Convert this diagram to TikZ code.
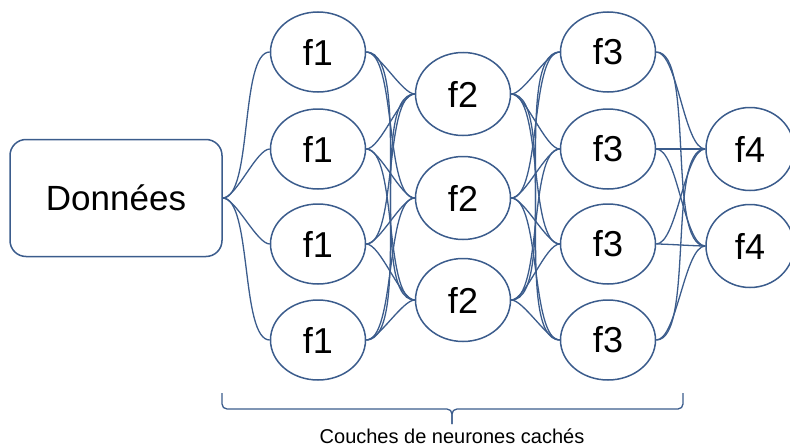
\documentclass[tikz,border=0pt]{standalone}
\usepackage{fontspec}
\setmainfont{Liberation Sans}
\usetikzlibrary{shapes.geometric}
\definecolor{netblue}{HTML}{3B5C8C}
\begin{document}
\begin{tikzpicture}[x=1pt,y=-1pt,
    neuron/.style={draw=netblue,line width=1.5pt,ellipse,minimum width=95pt,minimum height=80pt,inner sep=0pt,font=\fontsize{36}{36}\selectfont},
    link/.style={netblue,line width=1.3pt,out=0,in=180,looseness=0.5}]
    \useasboundingbox (0,0) rectangle (790,447);
    \node[draw=netblue,line width=1.5pt,rounded corners=16pt,minimum width=212pt,minimum height=117pt,font=\fontsize{35}{35}\selectfont] (don) at (116,198) {Données};
    \foreach \i/\y in {1/52,2/149,3/244,4/340} {
        \node[neuron] (a\i) at (318,\y) {f1};
        \node[neuron] (c\i) at (608,\y) {f3};
    }
    \foreach \i/\y in {1/94,2/198,3/300}
        \node[neuron,minimum height=83pt] (b\i) at (463,\y) {f2};
    \foreach \i/\y in {1/149,2/246}
        \node[neuron,minimum width=88pt,minimum height=83pt] (d\i) at (750,\y) {f4};
    % liens entre couches
    \foreach \i in {1,...,4} {
        \draw[link] (don.east) to (a\i.west);
        \foreach \j in {1,2,3} {
            \draw[link] (a\i.east) to (b\j.west);
            \draw[link] (b\j.east) to (c\i.west);
        }
        \foreach \j in {1,2}
            \draw[link] (c\i.east) to (d\j.west);
    }
    % accolade
    \coordinate (bl) at (222,393);
    \coordinate (br) at (683,393);
    \coordinate (bm) at (452,409);
    \coordinate (bt) at (452,424);
    \draw[netblue,line width=1.3pt,rounded corners=5pt] (bl) |- (bm) -- (bt);
    \draw[netblue,line width=1.3pt,rounded corners=5pt] (br) |- (bm) -- (bt);
    \node[font=\fontsize{20}{20}\selectfont,anchor=base,inner sep=0pt] (cap) at (452,443) {Couches de neurones cachés};
\end{tikzpicture}
\end{document}
